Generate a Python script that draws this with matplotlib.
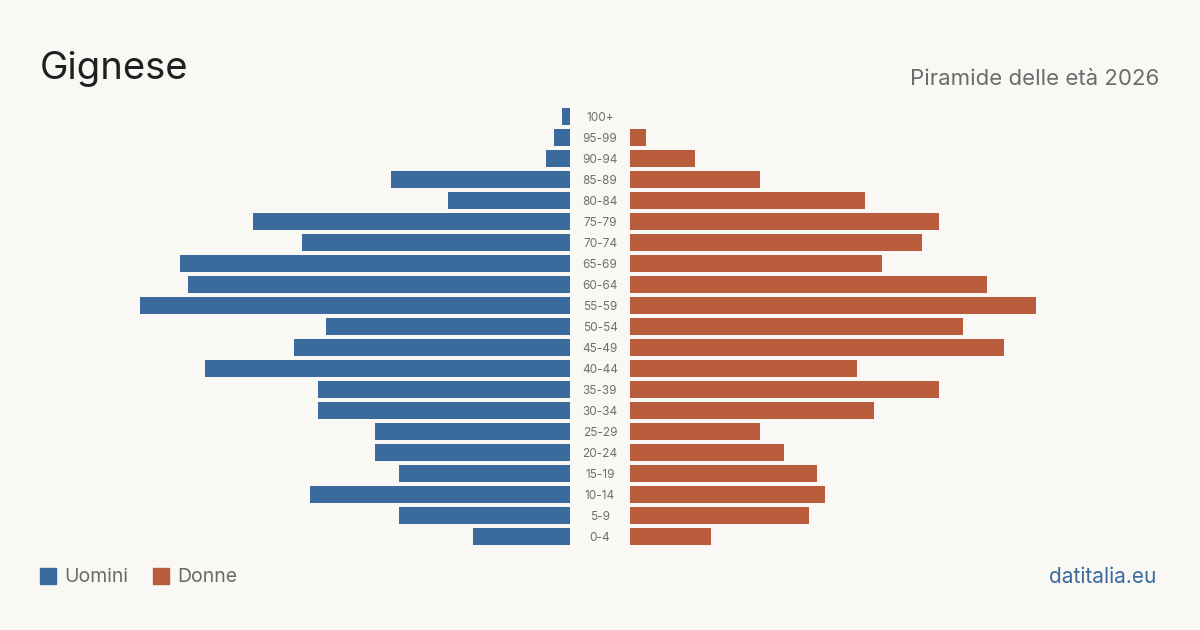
import numpy as np
import matplotlib.pyplot as plt
from matplotlib.patches import Rectangle

# Age classes, top to bottom
age_groups = ['100+', '95-99', '90-94', '85-89', '80-84', '75-79', '70-74',
              '65-69', '60-64', '55-59', '50-54', '45-49', '40-44', '35-39',
              '30-34', '25-29', '20-24', '15-19', '10-14', '5-9', '0-4']
uomini = [1, 2, 3, 22, 15, 39, 33, 48, 47, 53, 30, 34, 45, 31, 31, 24, 24, 21, 32, 21, 12]
donne = [0, 2, 8, 16, 29, 38, 36, 31, 44, 50, 41, 46, 28, 38, 30, 16, 19, 23, 24, 22, 10]

BG = '#f9f8f4'
BLUE = '#3a6b9c'
ORANGE = '#b85c3c'
W, H = 1200, 630

plt.rcParams['font.family'] = ['Inter', 'DejaVu Sans']

fig = plt.figure(figsize=(W / 100, H / 100), dpi=100, facecolor=BG)

n = len(age_groups)
y = np.arange(n)
xmax = 430 / 8.12
top_px, bottom_px = 105.5, 546.5
ax_bottom = 1 - bottom_px / H
ax_height = (bottom_px - top_px) / H

ax_l = fig.add_axes([140 / W, ax_bottom, 430 / W, ax_height])
ax_r = fig.add_axes([630 / W, ax_bottom, 430 / W, ax_height])

ax_l.barh(y, uomini, height=17 / 21, color=BLUE)
ax_r.barh(y, donne, height=17 / 21, color=ORANGE)

ax_l.set_xlim(xmax, 0)
ax_r.set_xlim(0, xmax)
for ax in (ax_l, ax_r):
    ax.set_ylim(n - 0.5, -0.5)
    ax.set_facecolor('none')
    ax.axis('off')

# age labels in the gap between the two halves
for i, lab in enumerate(age_groups):
    yy = 1 - (118 + 21 * i) / H
    fig.text(600 / W, yy, lab, ha='center', va='center', fontsize=8.5, color='#6f6f6f')

fig.text(40 / W, 1 - 69 / H, 'Gignese', fontsize=27.5, color='#1f1f1f', ha='left', va='center')
fig.text(1159 / W, 1 - 79 / H, 'Piramide delle età 2026', fontsize=16, color='#6b6b6b',
         ha='right', va='center')

# legend
fig.patches.append(Rectangle((40 / W, 1 - 584 / H), 16 / W, 16 / H, transform=fig.transFigure,
                             color=BLUE))
fig.text(64 / W, 1 - 577 / H, 'Uomini', fontsize=14, color='#6b6b6b', ha='left', va='center')
fig.patches.append(Rectangle((153 / W, 1 - 584 / H), 16 / W, 16 / H, transform=fig.transFigure,
                             color=ORANGE))
fig.text(177 / W, 1 - 577 / H, 'Donne', fontsize=14, color='#6b6b6b', ha='left', va='center')

fig.text(1156 / W, 1 - 577 / H, 'datitalia.eu', fontsize=15, color=BLUE, ha='right', va='center')

fig.savefig('out.png', dpi=100, facecolor=BG)
